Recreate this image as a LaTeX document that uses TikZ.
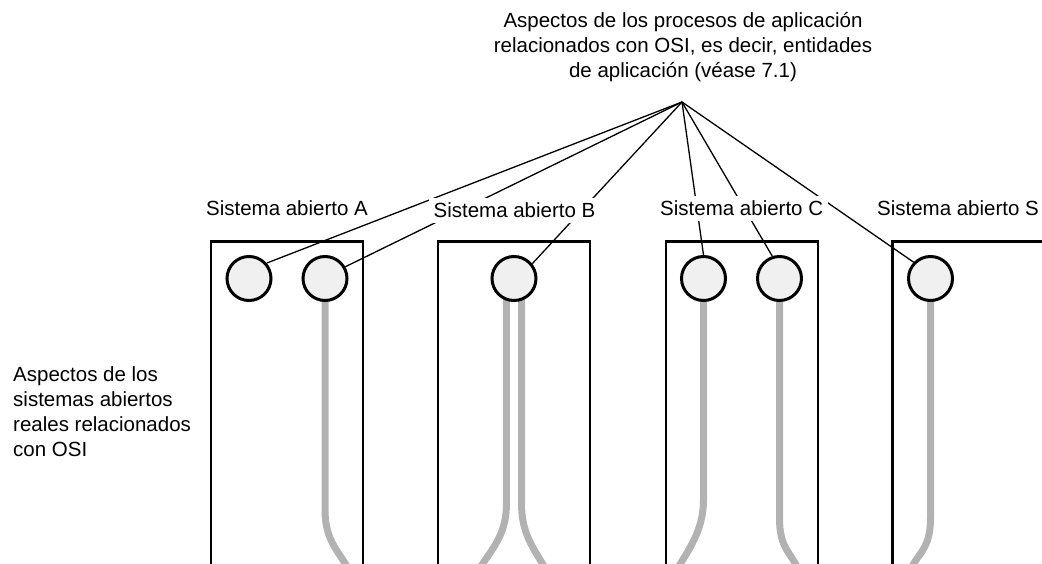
\documentclass[tikz,border=0pt]{standalone}
\usepackage{fontspec}
\setmainfont{Liberation Sans}
\usetikzlibrary{backgrounds}
\begin{document}
\begin{tikzpicture}[x=1pt, y=-1pt,
	every node/.style={font=\fontsize{20.5}{25}\selectfont},
	port/.style={circle, draw, line width=3pt, fill=black!6, minimum size=44pt, inner sep=0},
	lead/.style={line width=1.3pt},
	fibre/.style={line width=7pt, black!30},
	tag/.style={fill=white, inner sep=5pt, anchor=base}]

\useasboundingbox (0, 0) rectangle (1042, 564);
\clip (0, 0) rectangle (1042, 564);

% open systems
\foreach \x in {211, 438, 666, 892.5}
\draw[line width=2.7pt] (\x, 570) |- (\x+152, 241.5) -- (\x+152, 570);

\foreach \n/\x in {a1/249, a2/325, b1/514, c1/703.5, c2/779.5, s1/930.5}
\node[port] (\n) at (\x, 278.5) {};

\begin{scope}[on background layer]
\clip (0, 0) rectangle (1042, 564);
\foreach \n/\dx/\y/\ex in {
	a2/0/510/25,
	b1/-7.6/505/-29,
	b1/7.6/505/25.5,
	c1/0/500/-28,
	c2/0/518/20,
	s1/0/518/-21}
\draw[fibre] ([xshift=\dx]\n.center) -- ++(0, \y-278.5)
	.. controls +(0, 32) and +(-0.4*\ex, -20) .. ++(\ex, 572-\y);
\end{scope}

\coordinate (apex) at (682, 102);
\foreach \n/\a in {a1/41, a2/30, b1/39, c1/90, c2/108, s1/136}
\draw[lead] (apex) -- (\n.\a);

\foreach \n/\x/\y in {A/287/216, B/514.5/218, C/741.7/216, S/958/216}
\node[tag] (l\n) at (\x, \y) {Sistema abierto \n};

\node[align=center] (ae) at (683, 46.7) {Aspectos de los procesos de aplicación\\relacionados con OSI, es decir, entidades\\de aplicación (véase 7.1)};
\node[align=left, anchor=west, inner sep=0] (real) at (13, 411.5) {Aspectos de los\\sistemas abiertos\\reales relacionados\\con OSI};

\end{tikzpicture}
\end{document}
